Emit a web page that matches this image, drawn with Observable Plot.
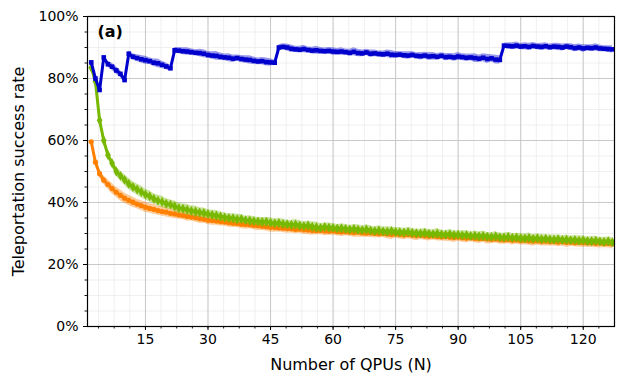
<!DOCTYPE html>
<html><head><meta charset="utf-8">
<script src="https://cdn.jsdelivr.net/npm/d3@7"></script>
<script src="https://cdn.jsdelivr.net/npm/@observablehq/plot@0.6"></script>
<style>body{margin:0;background:#fff} svg{font-family:"DejaVu Sans",sans-serif}</style>
</head><body><div id="chart"></div>
<script>
// Number of QPUs (N) = 2 .. 127
const qpus = d3.range(2, 128);

const blueRate = [
85.2,80.0,76.3,86.8,84.6,83.8,82.6,81.5,79.5,88.0,
87.0,86.6,86.2,85.9,85.6,85.1,84.9,84.4,83.9,83.3,
89.1,89.0,88.8,88.7,88.5,88.3,88.2,88.0,87.6,87.4,
87.3,87.0,86.8,86.7,86.4,86.6,86.3,86.1,86.0,85.7,
85.5,85.6,85.3,85.2,85.1,90.0,90.2,90.0,89.6,89.4,
89.3,89.5,89.2,89.0,89.1,88.9,88.8,88.9,88.7,88.6,
88.7,88.5,88.3,88.6,88.2,88.1,88.4,88.0,88.1,87.9,
87.8,88.0,87.7,87.6,87.7,87.5,87.4,87.6,87.3,87.2,
87.4,87.1,87.2,87.0,87.3,86.9,87.0,86.8,87.1,86.9,
86.7,86.8,86.6,86.4,86.7,86.3,86.5,86.1,86.0,90.6,
90.5,90.4,90.6,90.3,90.4,90.2,90.5,90.3,90.2,90.4,
90.1,90.3,90.2,90.0,90.3,90.1,89.8,90.0,89.7,89.9,
89.8,90.0,89.7,89.6,89.5,89.4];

const greenRate = [
83.5,79.0,66.5,60.0,55.3,52.7,50.0,48.6,47.3,46.0,
45.0,44.2,43.4,42.6,42.0,41.2,40.6,40.2,39.6,39.3,
38.8,38.2,38.0,37.7,37.3,37.1,36.8,36.6,36.3,36.0,
35.8,35.5,35.2,35.0,34.9,34.6,34.7,34.3,34.2,34.0,
33.9,33.7,33.8,33.5,33.3,33.4,33.1,33.0,32.8,32.9,
32.6,32.4,32.6,32.2,32.0,31.8,32.1,31.9,31.8,31.6,
31.7,31.5,31.3,31.5,31.2,31.1,31.3,31.0,30.8,31.0,
30.7,30.6,30.8,30.5,30.4,30.3,30.5,30.2,30.1,30.0,
30.2,29.9,29.8,30.0,29.7,29.6,29.8,29.5,29.6,29.4,
29.5,29.2,29.3,29.1,29.2,29.0,28.9,29.1,28.8,28.7,
28.9,28.6,28.7,28.5,28.4,28.6,28.3,28.5,28.2,28.3,
28.1,28.0,28.2,27.9,28.0,27.8,27.9,27.7,27.8,27.6,
27.5,27.7,27.4,27.3,27.5,27.2];

const orangeRate = [
59.6,53.0,49.3,47.2,45.8,44.5,43.3,42.3,41.4,40.7,
40.1,39.5,39.0,38.5,38.1,37.8,37.4,37.1,36.9,36.5,
36.3,36.0,35.8,35.5,35.3,35.1,34.8,34.6,34.3,34.2,
34.0,33.8,33.7,33.5,33.3,33.2,33.0,32.9,32.8,32.6,
32.5,32.3,32.2,32.0,31.9,31.8,31.7,31.6,31.5,31.3,
31.4,31.2,31.1,31.0,30.9,31.0,30.8,30.7,30.8,30.6,
30.5,30.6,30.4,30.3,30.4,30.2,30.1,30.2,30.0,29.9,
30.0,29.8,29.7,29.8,29.6,29.5,29.6,29.4,29.3,29.4,
29.2,29.1,29.2,29.0,28.9,29.0,28.8,28.7,28.8,28.6,
28.5,28.6,28.4,28.3,28.4,28.2,28.1,28.2,28.0,27.9,
28.0,27.8,27.9,27.7,27.8,27.6,27.5,27.6,27.4,27.5,
27.3,27.4,27.2,27.3,27.1,27.2,27.0,27.1,27.0,26.9,
27.0,26.8,26.9,26.7,26.8,26.6];

// half-width of the shaded band (percentage points)
const blueSpread = [
0.5,0.8,0.9,0.8,1.0,1.1,1.2,1.1,1.0,0.9,
1.0,1.1,1.2,1.3,1.1,1.2,1.4,1.2,1.1,1.0,
0.9,1.0,1.1,1.2,1.1,1.0,1.2,1.3,1.1,1.2,
1.4,1.2,1.1,1.3,1.2,1.0,1.1,1.2,1.3,1.2,
1.1,1.2,1.3,1.2,0.8,0.9,1.0,1.1,1.2,1.0,
1.1,1.2,1.0,1.1,1.3,1.1,1.0,1.1,1.2,1.1,
1.2,1.0,1.1,1.3,1.2,1.1,1.0,1.2,1.1,1.0,
1.1,1.2,1.3,1.1,1.0,1.1,1.2,1.1,1.0,1.2,
1.1,1.3,1.2,1.1,1.0,1.2,1.1,1.2,1.3,1.1,
1.2,1.1,1.4,1.2,1.3,1.5,1.2,1.4,1.3,0.8,
1.0,1.1,1.2,1.0,1.1,1.2,1.1,1.0,1.2,1.1,
1.0,1.1,1.2,1.1,1.0,1.1,1.2,1.1,1.2,1.0,
1.1,1.2,1.1,1.0,1.1,1.2];

const greenSpread = [
0.6,1.0,1.2,1.1,1.2,1.4,1.5,1.6,1.7,1.8,
1.7,1.8,1.9,1.7,1.8,1.6,1.7,1.8,1.6,1.5,
1.7,1.6,1.5,1.7,1.6,1.8,1.5,1.6,1.4,1.5,
1.6,1.4,1.5,1.3,1.5,1.6,1.4,1.3,1.5,1.4,
1.3,1.5,1.4,1.6,1.3,1.4,1.5,1.3,1.4,1.6,
1.5,1.3,1.4,1.5,1.7,1.4,1.3,1.5,1.4,1.3,
1.4,1.5,1.3,1.4,1.6,1.3,1.5,1.4,1.3,1.5,
1.4,1.6,1.3,1.4,1.5,1.3,1.4,1.5,1.3,1.4,
1.5,1.3,1.4,1.6,1.4,1.3,1.5,1.4,1.3,1.5,
1.4,1.3,1.5,1.4,1.6,1.3,1.4,1.5,1.3,1.4,
1.5,1.4,1.3,1.5,1.4,1.6,1.3,1.4,1.5,1.3,
1.4,1.5,1.3,1.4,1.5,1.3,1.4,1.6,1.4,1.3,
1.5,1.4,1.3,1.5,1.4,1.5];

const orangeSpread = [
0.6,1.0,1.3,1.4,1.5,1.7,1.6,1.8,1.7,1.6,
1.7,1.5,1.6,1.7,1.5,1.6,1.4,1.5,1.6,1.4,
1.5,1.3,1.4,1.5,1.3,1.4,1.6,1.3,1.4,1.5,
1.3,1.4,1.3,1.5,1.4,1.3,1.4,1.5,1.3,1.4,
1.5,1.3,1.4,1.6,1.5,1.3,1.4,1.5,1.3,1.4,
1.3,1.5,1.4,1.6,1.3,1.4,1.5,1.3,1.4,1.3,
1.5,1.4,1.3,1.5,1.6,1.4,1.3,1.5,1.4,1.3,
1.4,1.5,1.6,1.3,1.4,1.5,1.3,1.4,1.6,1.3,
1.4,1.5,1.3,1.4,1.3,1.5,1.4,1.6,1.3,1.4,
1.5,1.3,1.4,1.5,1.3,1.6,1.4,1.3,1.5,1.4,
1.3,1.5,1.4,1.3,1.5,1.4,1.6,1.3,1.4,1.5,
1.3,1.4,1.5,1.3,1.6,1.4,1.3,1.5,1.4,1.3,
1.5,1.4,1.6,1.3,1.5,1.4];

const xTicks = [15, 30, 45, 60, 75, 90, 105, 120];
const yTicks = [0, 20, 40, 60, 80, 100];
const xMinorTicks = d3.range(3.75, 127.5, 3.75);
const yMinorTicks = d3.range(0, 101, 5);

const series = [
  {name: "orange", rate: orangeRate, spread: orangeSpread, color: "#ff8000", symbol: "circle"},
  {name: "green", rate: greenRate, spread: greenSpread, color: "#77b800", symbol: "diamond"},
  {name: "blue", rate: blueRate, spread: blueSpread, color: "#0000cd", symbol: "square"}
];

const seriesMarks = series.flatMap(s => {
  const rows = qpus.map((n, i) => ({n, y: s.rate[i], lo: s.rate[i] - s.spread[i], hi: s.rate[i] + s.spread[i]}));
  return [
    Plot.areaY(rows, {x: "n", y1: "lo", y2: "hi", fill: s.color, fillOpacity: 0.4, curve: "linear", clip: true}),
    Plot.lineY(rows, {x: "n", y: "y", stroke: s.color, strokeWidth: 3, clip: true}),
    Plot.dot(rows, {x: "n", y: "y", symbol: s.symbol, r: s.symbol === "diamond" ? 3 : 2.6, fill: s.color, stroke: "none", clip: true})
  ];
});

const chart = Plot.plot({
  width: 623, height: 384,
  marginLeft: 87, marginRight: 9, marginTop: 16, marginBottom: 58,
  x: {domain: [1.1, 127.5]},
  y: {domain: [0, 100]},
  style: {fontFamily: "DejaVu Sans, sans-serif", fontSize: "14px", background: "white", color: "black", overflow: "visible"},
  marks: [
    Plot.gridX(xMinorTicks, {stroke: "#ebebeb", strokeOpacity: 1, strokeWidth: 0.8}),
    Plot.gridY(yMinorTicks, {stroke: "#ebebeb", strokeOpacity: 1, strokeWidth: 0.8}),
    Plot.gridX(xTicks, {stroke: "#c4c4c4", strokeOpacity: 1, strokeWidth: 0.9}),
    Plot.gridY(yTicks, {stroke: "#c4c4c4", strokeOpacity: 1, strokeWidth: 0.9}),
    ...seriesMarks,
    Plot.frame({stroke: "black", strokeWidth: 1.2}),
    Plot.axisX(xMinorTicks, {tickSize: 2.5, tickFormat: () => "", label: null, strokeWidth: 0.9}),
    Plot.axisY(yMinorTicks, {tickSize: 2.5, tickFormat: () => "", label: null, strokeWidth: 0.9}),
    Plot.axisX(xTicks, {tickSize: 4, tickPadding: 4, fontSize: 14, label: null, strokeWidth: 1}),
    Plot.axisY(yTicks, {tickSize: 4, tickPadding: 5, fontSize: 14, tickFormat: d => d + "%", label: null, strokeWidth: 1}),
    Plot.text(["(a)"], {frameAnchor: "top-left", dx: 10, dy: 15, textAnchor: "start", lineAnchor: "middle", fontWeight: "bold", fontSize: 16}),
    Plot.text(["Number of QPUs (N)"], {frameAnchor: "bottom", dy: 38, lineAnchor: "middle", fontSize: 16}),
    Plot.text(["Teleportation success rate"], {frameAnchor: "left", dx: -69, rotate: -90, textAnchor: "middle", lineAnchor: "middle", fontSize: 16})
  ]
});
document.getElementById("chart").appendChild(chart);
</script>
</body></html>
